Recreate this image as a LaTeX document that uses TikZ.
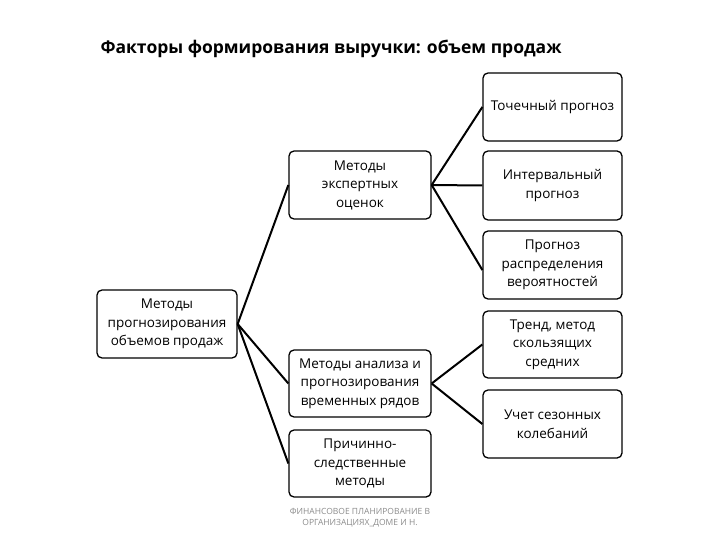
\documentclass[tikz,border=0pt]{standalone}
\usepackage{fontspec}
\setmainfont{Open Sans}
\begin{document}
\begin{tikzpicture}[x=1pt,y=-1pt,
  bx/.style={draw,line width=1.3pt,rounded corners=5pt,align=center,font=\fontsize{13.5}{18.5}\selectfont,inner sep=0pt},
  ln/.style={line width=2pt}]
\useasboundingbox[fill=white] (0,0) rectangle (720,540);
\node[font=\bfseries\fontsize{17.5}{20}\selectfont,anchor=west] (t) at (97,49) {Факторы формирования выручки: объем продаж};
\newcommand\bb[6]{\node[bx,minimum width=#3-#2,minimum height=#5-#4] (#1) at ({(#2+#3)/2},{(#4+#5)/2}) {#6};}
\bb{L}{97}{237}{290}{358}{Методы\\прогнозирования\\объемов продаж}
\bb{E}{289}{431}{151}{219}{Методы\\экспертных\\оценок}
\bb{T}{289}{431}{350}{417}{Методы анализа и\\прогнозирования\\временных рядов}
\bb{C}{289}{431}{430}{497}{Причинно-\\следственные\\методы}
\bb{P}{483}{622}{73}{141}{Точечный прогноз}
\bb{I}{483}{622}{151}{220}{Интервальный\\прогноз}
\bb{V}{483}{622}{231}{299}{Прогноз\\распределения\\вероятностей}
\bb{R}{483}{622}{311}{378}{Тренд, метод\\скользящих\\средних}
\bb{S}{483}{622}{390}{458}{Учет сезонных\\колебаний}
\node[font=\fontsize{8.5}{11}\selectfont,text=black!45,align=center] (f) at (360,518) {ФИНАНСОВОЕ ПЛАНИРОВАНИЕ В\\ОРГАНИЗАЦИЯХ\_ДОМЕ И Н.};
\draw[ln] (L.east) -- (E.west);
\draw[ln] (L.east) -- (T.west);
\draw[ln] (L.east) -- (C.west);
\draw[ln] (E.east) -- (P.west);
\draw[ln] (E.east) -- (I.west);
\draw[ln] (E.east) -- ([yshift=-5pt]V.west);
\draw[ln] (T.east) -- (R.west);
\draw[ln] (T.east) -- (S.west);
\end{tikzpicture}
\end{document}
